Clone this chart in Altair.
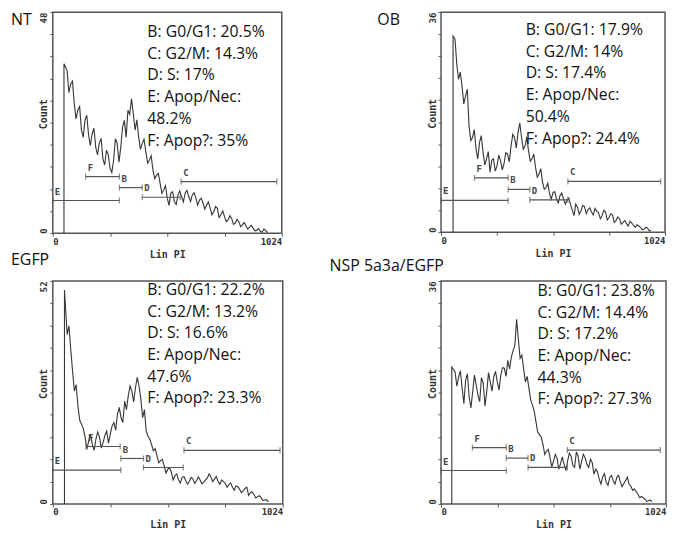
import altair as alt
import pandas as pd

# histogram channel bins (Lin PI): main bins and in-between bins
BINS = [64, 80, 96, 112, 128, 144, 160, 176, 192, 208, 224, 240, 256, 272, 288,
        304, 320, 336, 352, 368, 384, 400, 416, 432, 448, 464, 480, 496, 512,
        528, 544, 560, 576, 592, 608, 624, 640, 656, 672, 688, 704, 720, 736,
        752, 768, 784, 800, 816, 832, 848, 864, 880, 896, 912, 928, 944, 960]
MIDS = [72, 88, 104, 120, 136, 152, 168, 184, 200, 216, 232, 248, 264, 280,
        296, 312, 328, 344, 360, 376, 392, 408, 424, 440, 456, 472, 488, 504,
        520, 536, 552, 568, 584, 600, 616, 632, 648, 664, 680, 696, 712, 728,
        744, 760, 776, 792, 808, 824, 840, 856, 872, 888, 904, 920, 936, 952]

X_TICKS = [0, 256, 512, 768, 1024]

NT_VALUES = [35.3, 32.4, 28.1, 26.7, 22.4, 24.5, 21.3, 21.6, 18.7, 19.5,
             16.2, 18.0, 14.1, 15.9, 19.5, 18.7, 24.5, 26.7, 29.2, 22.4,
             20.9, 19.5, 17.7, 15.9, 13.7, 12.6, 10.8, 9.4, 7.6, 8.7,
             6.8, 8.3, 7.9, 8.7, 7.9, 8.3, 7.6, 7.2, 6.5, 6.1,
             5.4, 4.7, 5.4, 4.0, 3.6, 2.9, 3.2, 2.2, 2.5, 1.8,
             1.6, 1.3, 1.1, 0.6, 0.4, 0.9, 0.1]
NT_MID = [30.5, 33.0, 24.8, 27.5, 20.8, 25.6, 19.0, 22.8, 17.0, 20.6,
          14.8, 17.0, 13.2, 20.5, 15.4, 23.0, 20.8, 25.8, 26.0, 24.6,
          18.2, 20.4, 15.2, 16.8, 11.8, 13.0, 8.6, 10.3, 6.0, 9.0,
          6.2, 9.2, 6.8, 9.3, 6.9, 8.8, 6.1, 7.6, 5.2, 6.8,
          4.0, 5.8, 3.4, 4.8, 2.5, 3.8, 1.9, 3.0, 1.4, 2.3,
          0.9, 1.7, 0.5, 1.0, 0.2, 0.6]
OB_VALUES = [31.6, 25.0, 23.9, 22.3, 17.4, 15.5, 13.6, 14.7, 13.1, 12.0,
             9.8, 12.0, 10.9, 11.7, 11.2, 12.8, 14.1, 15.5, 16.3, 15.5,
             14.1, 13.3, 12.0, 10.6, 9.5, 8.2, 7.3, 6.3, 6.5, 5.4,
             6.0, 5.4, 5.2, 4.5, 2.7, 4.1, 3.5, 4.2, 3.7, 3.3,
             3.9, 3.2, 2.7, 3.3, 2.4, 2.8, 1.9, 2.2, 1.6, 1.4,
             1.8, 1.1, 1.2, 0.8, 0.5, 0.7, 0.3]
OB_MID = [27.5, 26.2, 21.0, 23.4, 15.0, 16.8, 12.0, 15.8, 11.0, 13.2,
          11.8, 10.0, 12.6, 10.2, 13.0, 11.5, 16.0, 13.8, 17.9, 13.6,
          15.6, 11.6, 12.8, 9.0, 10.4, 7.0, 8.0, 5.4, 6.6, 4.8,
          6.4, 4.6, 5.6, 3.6, 4.6, 2.9, 4.4, 3.0, 4.0, 2.8,
          3.4, 2.2, 3.6, 2.0, 3.0, 1.6, 2.5, 1.3, 1.9, 1.0,
          1.5, 0.8, 1.0, 0.4, 0.8, 0.2]
EGFP_VALUES = [39.5, 36.0, 26.3, 22.8, 18.6, 15.5, 14.7, 13.9, 15.1, 15.5,
               14.3, 17.0, 16.3, 19.0, 20.9, 20.1, 24.0, 25.2, 26.3, 27.1,
               27.5, 20.1, 17.0, 15.1, 12.4, 11.2, 10.1, 8.9, 8.1, 7.4,
               6.6, 5.6, 6.2, 5.4, 5.3, 5.8, 5.4, 5.6, 5.1, 6.0,
               6.3, 5.8, 5.3, 5.6, 4.8, 4.5, 3.9, 4.2, 3.4, 3.1,
               3.9, 2.6, 2.2, 1.7, 1.4, 0.9, 0.5]
EGFP_MID = [41.5, 31.0, 27.8, 19.5, 17.5, 12.8, 16.2, 12.5, 16.8, 13.0,
            16.0, 14.2, 18.2, 17.2, 22.5, 19.0, 22.0, 27.5, 23.8, 29.5,
            24.5, 22.0, 15.8, 13.8, 12.9, 9.6, 10.4, 7.2, 8.4, 5.6,
            7.0, 4.9, 6.4, 4.6, 6.2, 4.8, 6.3, 4.7, 5.6, 7.0,
            5.2, 6.4, 4.6, 5.2, 3.9, 4.9, 3.2, 4.0, 2.6, 3.6,
            2.0, 2.8, 1.4, 1.9, 0.8, 1.0]
NSP_VALUES = [21.3, 20.5, 18.7, 20.0, 17.3, 18.1, 19.2, 16.5, 19.5, 18.1,
              19.7, 20.5, 19.7, 20.8, 21.9, 23.2, 23.7, 25.6, 26.6, 24.0,
              19.7, 18.7, 16.0, 13.3, 11.2, 9.6, 8.5, 7.5, 6.9, 7.4,
              6.5, 6.4, 6.9, 7.7, 5.9, 7.7, 6.9, 7.4, 5.9, 6.7,
              5.6, 4.0, 4.4, 3.5, 4.3, 3.7, 4.3, 3.6, 3.3, 4.3,
              2.9, 2.4, 1.6, 1.2, 0.8, 0.5, 0.4]
NSP_MID = [19.0, 21.5, 16.2, 21.0, 15.5, 20.8, 17.6, 20.4, 15.8, 21.2,
           18.2, 21.4, 18.4, 22.0, 20.6, 21.8, 24.8, 29.8, 23.5, 21.8,
           20.6, 16.8, 15.0, 11.6, 10.8, 8.0, 8.8, 6.0, 8.0, 5.6,
           7.6, 5.4, 8.2, 6.2, 8.4, 5.6, 8.0, 6.4, 7.2, 4.8,
           5.2, 3.2, 4.9, 3.0, 4.6, 3.2, 4.6, 2.8, 3.8, 3.2,
           2.2, 2.0, 1.0, 1.0, 0.4, 0.6]

# gate markers: letter, start channel, end channel, count level
NT_GATES = [("E", 0, 298, 7.1), ("F", 147, 298, 12.3), ("B", 298, 400, 9.9),
            ("D", 400, 570, 7.8), ("C", 574, 1002, 11.2)]
OB_GATES = [("E", 0, 307, 5.2), ("F", 153, 307, 8.9), ("B", 307, 406, 7.0),
            ("D", 406, 580, 5.3), ("C", 580, 1004, 8.3)]
EGFP_GATES = [("E", 0, 303, 7.9), ("F", 148, 300, 13.4), ("B", 303, 404, 10.6),
              ("D", 404, 581, 8.5), ("C", 584, 1012, 12.5)]
NSP_GATES = [("E", 0, 297, 5.4), ("F", 143, 297, 9.1), ("B", 297, 396, 7.4),
             ("D", 396, 575, 5.9), ("C", 575, 998, 8.7)]

NT_TEXT = ["B: G0/G1: 20.5%", "C: G2/M: 14.3%", "D: S: 17%", "E: Apop/Nec:", "48.2%", "F: Apop?: 35%"]
OB_TEXT = ["B: G0/G1: 17.9%", "C: G2/M: 14%", "D: S: 17.4%", "E: Apop/Nec:", "50.4%", "F: Apop?: 24.4%"]
EGFP_TEXT = ["B: G0/G1: 22.2%", "C: G2/M: 13.2%", "D: S: 16.6%", "E: Apop/Nec:", "47.6%", "F: Apop?: 23.3%"]
NSP_TEXT = ["B: G0/G1: 23.8%", "C: G2/M: 14.4%", "D: S: 17.2%", "E: Apop/Nec:", "44.3%", "F: Apop?: 27.3%"]

TEXT_FONT = "Open Sans"
MONO = "DejaVu Sans Mono"
INK = "#353535"


def panel(name, ymax, start, peak, values, mids, gates, annot, w, h, ax, ay, lx, ly):
    body = pd.DataFrame({"x": BINS + MIDS, "y": values + mids}).sort_values("x")
    hist = pd.concat([pd.DataFrame({"x": [start, start], "y": [0, peak]}), body],
                     ignore_index=True)
    hist["i"] = list(range(len(hist)))
    gdf = pd.DataFrame(gates, columns=["g", "x", "xe", "y"])

    xs = alt.Scale(domain=[0, 1024], nice=False, zero=False)
    ys = alt.Scale(domain=[0, ymax], nice=False, zero=True)
    yticks = [ymax * k / 10 for k in range(11)]
    xaxis = alt.Axis(values=X_TICKS, title="Lin PI", labelFlush=True, format="d",
                     labelExpr="datum.value == 0 || datum.value == 1024 ? datum.label : ''")
    yaxis = alt.Axis(values=yticks, title="Count", labelAngle=-90, format="d",
                     labelAlign={"condition": {"test": "datum.value == 0", "value": "left"}, "value": "right"},
                     labelBaseline="bottom",
                     labelExpr=f"datum.value == 0 || datum.value >= {ymax - 0.01} ? datum.label : ''",
                     titleAngle=-90, titleBaseline="bottom", titleAlign="center",
                     titleX=-4, titleY=h * 0.46)
    X = alt.X("x:Q", scale=xs, axis=xaxis)
    Y = alt.Y("y:Q", scale=ys, axis=yaxis)

    line = alt.Chart(hist).mark_line(color=INK, strokeWidth=1.1).encode(
        x=X, y=Y, order=alt.Order("i:Q"))
    rules = alt.Chart(gdf).mark_rule(color="#555", strokeWidth=1.2).encode(
        x=X, x2="xe:Q", y=Y)
    caps = alt.Chart(gdf).transform_fold(["x", "xe"], as_=["k", "xc"]).mark_tick(
        orient="vertical", size=6, thickness=1.2, color="#555").encode(
        x=alt.X("xc:Q", scale=xs, axis=xaxis), y=Y)
    letters = alt.Chart(gdf).mark_text(
        align="left", baseline="middle", dx=2, dy=-9, font=MONO,
        fontWeight="bold", fontSize=9, color="#444").encode(x=X, y=Y, text="g:N")
    ann = alt.Chart(pd.DataFrame({"t": ["\n".join(annot)]})).mark_text(
        align="left", baseline="top", lineBreak="\n", lineHeight=21.8,
        font=TEXT_FONT, fontSize=15.8, color="#111").encode(
        x=alt.value(ax), y=alt.value(ay - 7), text="t:N")
    lab = alt.Chart(pd.DataFrame({"t": [name]})).mark_text(
        align="left", baseline="middle", font=TEXT_FONT, fontSize=16,
        color="#111").encode(x=alt.value(lx), y=alt.value(ly), text="t:N")
    return alt.layer(line, rules, caps, letters, ann, lab).properties(width=w, height=h)


nt = panel("NT", 48, 50, 36.8, NT_VALUES, NT_MID, NT_GATES, NT_TEXT,
           230, 222, 95, 20, -42, 8)
ob = panel("OB", 36, 55, 32.1, OB_VALUES, OB_MID, OB_GATES, OB_TEXT,
           225, 221, 85, 18, -64, 8)
egfp = panel("EGFP", 52, 52, 49.9, EGFP_VALUES, EGFP_MID, EGFP_GATES, EGFP_TEXT,
             231, 224, 95, 9, -42, -21)
nsp = panel("NSP 5a3a/EGFP", 36, 49, 22.1, NSP_VALUES, NSP_MID, NSP_GATES, NSP_TEXT,
            226, 224, 97, 10, -112, -15)

chart = alt.concat(
    nt, ob, egfp, nsp, columns=2, bounds="flush",
    spacing={"row": 48, "column": 159}
).properties(
    padding={"left": 2, "top": 1, "right": 0, "bottom": 0}, background="white"
).configure_view(
    stroke="#555", strokeWidth=1.5
).configure_axis(
    grid=False, domain=False, tickColor="#555", tickSize=3, tickWidth=1,
    labelFont=MONO, labelFontWeight="bold", labelFontSize=9, labelColor="#333",
    labelPadding=1, titleFont=MONO, titleFontWeight="bold", titleFontSize=10,
    titleColor="#333", titlePadding=3
)

chart.save("out.html", embed_options={"renderer": "svg", "actions": False})
